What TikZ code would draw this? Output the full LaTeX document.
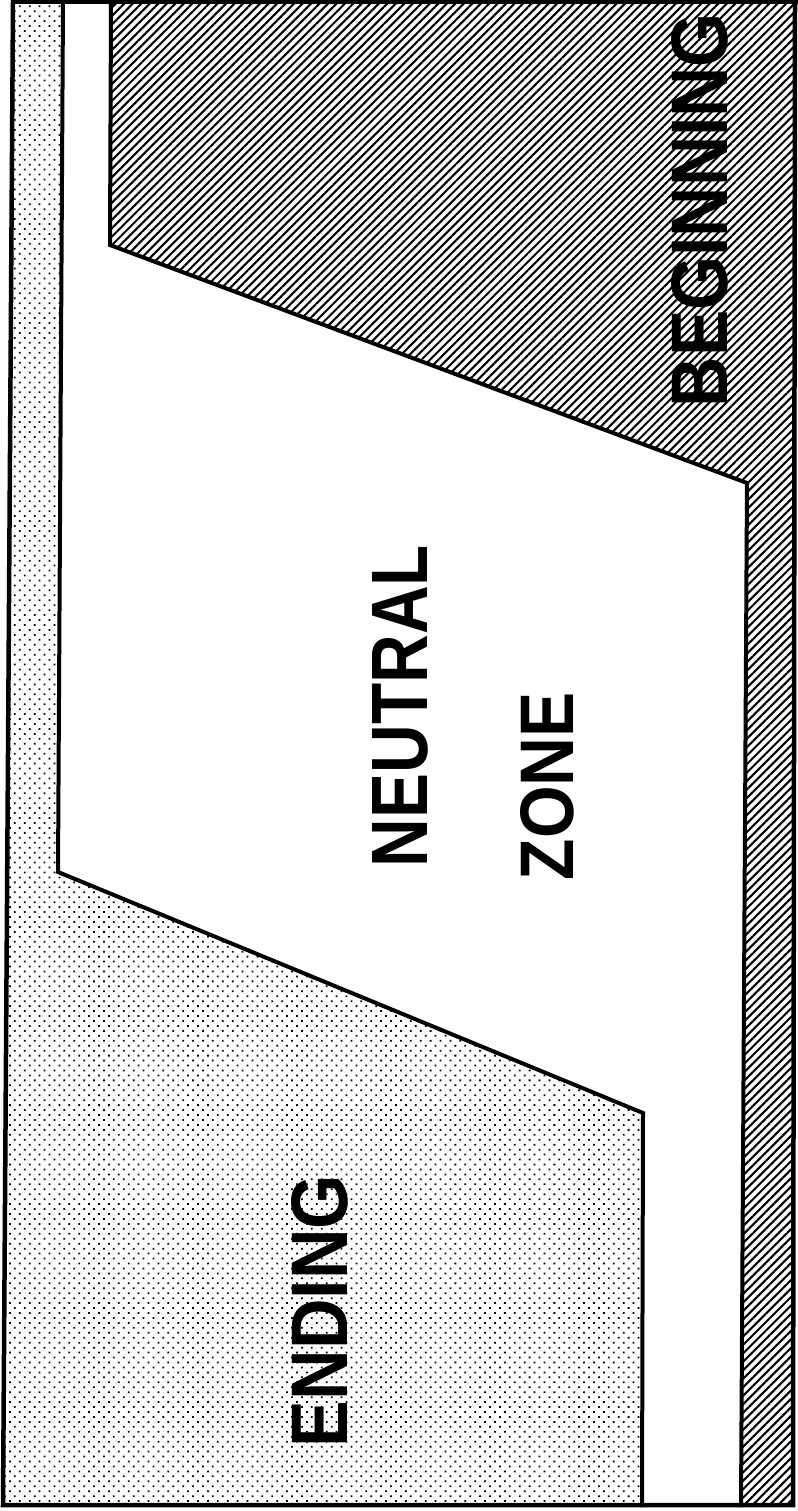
\documentclass[tikz,border=0pt]{standalone}
\usepackage{fontspec}
\setmainfont{Liberation Sans}
\usetikzlibrary{patterns.meta}
\begin{document}
\begin{tikzpicture}[x=1pt,y=-1pt,
  edge/.style={line width=4pt, line join=miter, line cap=rect},
  frame/.style={line width=4.5pt, line join=miter, line cap=rect},
  dots/.style={pattern={Dots[angle=45, distance=7pt, radius=1.25pt]}},
  hatch/.style={pattern={Lines[angle=45, distance=6pt, line width=2.1pt]}},
  lbl/.style={rotate=90, inner sep=0pt, anchor=center, font=\bfseries}]
\useasboundingbox (0,0) rectangle (797,1511);
\fill[white] (0,0) rectangle (797,1511);
% ENDING region (dotted)
\fill[dots] (13,2) -- (63,2) -- (58,872) -- (643,1113) -- (642,1505) -- (3,1505) -- cycle;
% BEGINNING region (hatched)
\fill[hatch] (111,2) -- (797,2) -- (793,1505) -- (741,1505) -- (747,483) -- (110,245) -- cycle;
% boundaries
\draw[edge] (63,2) -- (58,872) -- (643,1113) -- (642,1505);
\draw[edge] (111,2) -- (110,245) -- (747,483) -- (741,1505);
% frame
\draw[frame] (13,2) -- (797,2);
\draw[frame] (13,2) -- (3,1505) -- (793,1505) -- (795,2);
% labels
\node[lbl] (neutral) at (400,706) {\resizebox{322pt}{55pt}{NEUTRAL}};
\node[lbl] (zone) at (547,786) {\resizebox{188pt}{53pt}{ZONE}};
\node[lbl] (ending) at (320,1311) {\resizebox{272pt}{56pt}{ENDING}};
\node[lbl] (beginning) at (700,210) {\resizebox{394pt}{56pt}{BEGINNING}};
\end{tikzpicture}
\end{document}
